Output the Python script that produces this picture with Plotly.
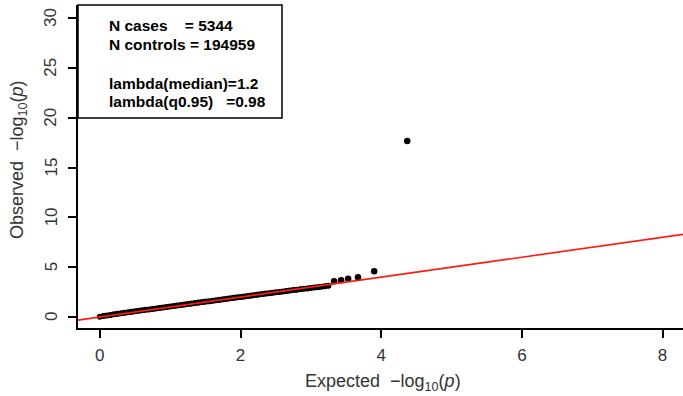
import plotly.graph_objects as go

# Bulk of the QQ points (expected vs observed -log10 p)
expected = [0.00, 0.05, 0.10, 0.15, 0.20, 0.25, 0.30, 0.35, 0.40, 0.45,
            0.50, 0.55, 0.60, 0.65, 0.70, 0.75, 0.80, 0.85, 0.90, 0.95,
            1.00, 1.05, 1.10, 1.15, 1.20, 1.25, 1.30, 1.35, 1.40, 1.45,
            1.50, 1.55, 1.60, 1.65, 1.70, 1.75, 1.80, 1.85, 1.90, 1.95,
            2.00, 2.05, 2.10, 2.15, 2.20, 2.25, 2.30, 2.35, 2.40, 2.45,
            2.50, 2.55, 2.60, 2.65, 2.70, 2.75, 2.80, 2.85, 2.90, 2.95,
            3.00, 3.05, 3.10, 3.15, 3.20, 3.25]
observed = [0.04, 0.10, 0.16, 0.21, 0.27, 0.32, 0.37, 0.42, 0.47, 0.52,
            0.57, 0.62, 0.67, 0.72, 0.76, 0.81, 0.86, 0.91, 0.96, 1.01,
            1.06, 1.11, 1.16, 1.21, 1.25, 1.30, 1.35, 1.40, 1.45, 1.50,
            1.55, 1.59, 1.64, 1.69, 1.74, 1.78, 1.83, 1.88, 1.93, 1.98,
            2.02, 2.07, 2.12, 2.16, 2.21, 2.26, 2.30, 2.35, 2.39, 2.44,
            2.48, 2.52, 2.57, 2.61, 2.65, 2.70, 2.74, 2.78, 2.83, 2.87,
            2.92, 2.96, 3.00, 3.04, 3.09, 3.15]

# Tail points
tail_expected = [3.33, 3.43, 3.53, 3.67, 3.90, 4.37]
tail_observed = [3.60, 3.70, 3.85, 4.00, 4.60, 17.65]

# Reference line y = x
ref_x = [-1.0, 9.0]
ref_y = [-1.0, 9.0]

x_ticks = [0, 2, 4, 6, 8]
y_ticks = [0, 5, 10, 15, 20, 25, 30]
y_tick_labels = ["0", "5", "10", "15", "20", "25", "30"]

legend_lines = [
    "N cases\u00a0\u00a0\u00a0\u00a0= 5344",
    "N controls = 194959",
    "lambda(median)=1.2",
    "lambda(q0.95)\u00a0\u00a0\u00a0=0.98",
]
legend_line_pos = [25, 45, 83, 101]  # pixel rows from top of figure

FONT = "Liberation Sans, Arial, Helvetica, sans-serif"
W, H = 683, 396
ML, MR, MT, MB = 78, 0, 5, 68

fig = go.Figure()
fig.add_trace(go.Scatter(
    x=expected, y=observed, mode="lines+markers",
    line=dict(color="black", width=5),
    marker=dict(color="black", size=6),
    hoverinfo="skip"))
fig.add_trace(go.Scatter(
    x=tail_expected, y=tail_observed, mode="markers",
    marker=dict(color="black", size=6.5),
    hoverinfo="skip"))
fig.add_trace(go.Scatter(
    x=ref_x, y=ref_y, mode="lines",
    line=dict(color="#ff1a10", width=1.6),
    hoverinfo="skip"))

axis_common = dict(
    showgrid=False, zeroline=False, showline=True, linecolor="black",
    linewidth=2, ticks="outside", ticklen=8, tickwidth=1.5,
    tickcolor="black", tickfont=dict(family=FONT, size=17, color="#333"),
    mirror=False,
)

fig.update_layout(
    width=W, height=H,
    margin=dict(l=ML, r=MR, t=MT, b=MB, autoexpand=False),
    paper_bgcolor="white", plot_bgcolor="white",
    showlegend=False,
    font=dict(family=FONT, color="#333"),
    xaxis=dict(range=[-0.31, 8.29], tickvals=x_ticks, **axis_common,
               ticklabelstandoff=3),
    yaxis=dict(range=[-1.1, 31.3], tickvals=y_ticks, showticklabels=False,
               **axis_common),
)

pw, ph = W - ML - MR, H - MT - MB

# Rotated y tick labels (R style, reading bottom to top)
for v, lab in zip(y_ticks, y_tick_labels):
    fig.add_annotation(
        text=lab, xref="paper", yref="y", x=(51 - ML) / pw, y=v,
        xanchor="center", yanchor="middle", textangle=-90, showarrow=False,
        font=dict(family=FONT, size=17, color="#333"))

# Axis titles as annotations for precise placement
fig.add_annotation(
    text="Expected\u00a0\u00a0\u2212log<sub>10</sub>(<i>p</i>)", xref="paper", yref="paper",
    x=(383 - ML) / pw, y=(H - MB - 382) / ph, xanchor="center", yanchor="middle",
    showarrow=False, font=dict(family=FONT, size=18, color="#333"))
fig.add_annotation(
    text="Observed\u00a0\u00a0\u2212log<sub>10</sub>(<i>p</i>)", xref="paper", yref="paper",
    x=(18 - ML) / pw, y=(H - MB - 160) / ph, xanchor="center", yanchor="middle",
    textangle=-90, showarrow=False, font=dict(family=FONT, size=18, color="#333"))

# Legend box
fig.add_shape(type="rect", xref="paper", yref="paper",
              x0=0, x1=(282 - ML) / pw, y0=(H - MB - 118) / ph, y1=1.0,
              line=dict(color="black", width=1.5), fillcolor="white", layer="above")
for txt, py in zip(legend_lines, legend_line_pos):
    fig.add_annotation(
        text="<b>" + txt + "</b>", xref="paper", yref="paper",
        x=(107 - ML) / pw, y=(H - MB - py) / ph, xanchor="left", yanchor="middle",
        showarrow=False, font=dict(family=FONT, size=15.5, color="black"))

fig.write_html("out.html")
